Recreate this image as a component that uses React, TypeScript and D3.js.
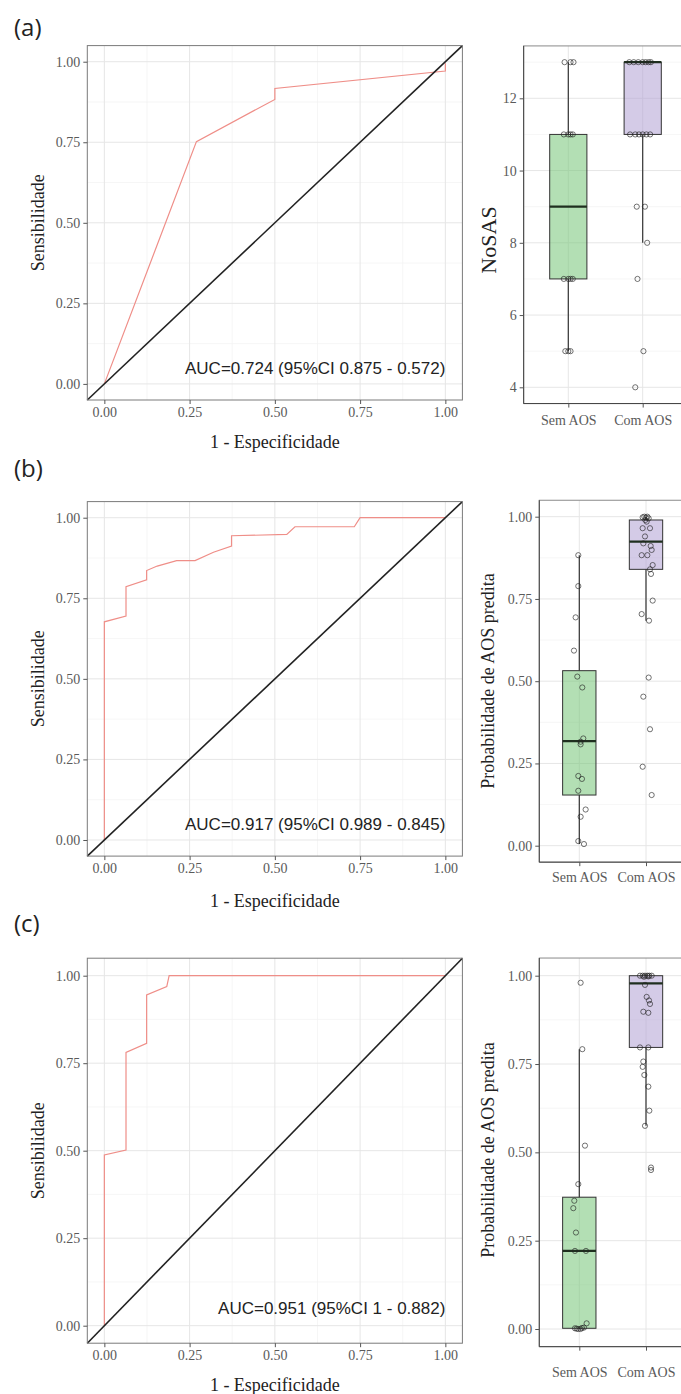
import React, { useEffect, useRef } from "react";
import * as d3 from "d3";

const W = 681;
const H = 1394;

const rocTicks = [0, 0.25, 0.5, 0.75, 1];
const rocMinor = [0.125, 0.375, 0.625, 0.875];
const groups = ["Sem AOS", "Com AOS"];
const nosasTicks = [4, 6, 8, 10, 12];
const nosasMinor = [5, 7, 9, 11, 13];
const probTicks = [0, 0.25, 0.5, 0.75, 1];
const probMinor = [0.125, 0.375, 0.625, 0.875];
const panelLabels = ["(a)", "(b)", "(c)"];
const boxTitles = ["NoSAS", "Probabilidade de AOS predita", "Probabilidade de AOS predita"];

// ROC curves: [1 - especificidade, sensibilidade]
const rocA = [[0, 0], [0.27, 0.752], [0.5, 0.883], [0.5, 0.917], [1, 0.971], [1, 0.995]];
const rocB = [
  [0, 0], [0, 0.677], [0.0635, 0.695], [0.0635, 0.786], [0.124, 0.807], [0.124, 0.836],
  [0.155, 0.85], [0.212, 0.867], [0.266, 0.867], [0.32, 0.893], [0.373, 0.912],
  [0.373, 0.944], [0.535, 0.948], [0.559, 0.972], [0.733, 0.972], [0.75, 1], [1, 1],
];
const rocC = [
  [0, 0], [0, 0.488], [0.0635, 0.502], [0.0635, 0.781], [0.124, 0.807], [0.124, 0.945],
  [0.183, 0.969], [0.19, 1], [1, 1],
];
const aucLabels = [
  "AUC=0.724 (95%CI 0.875 - 0.572)",
  "AUC=0.917 (95%CI 0.989 - 0.845)",
  "AUC=0.951 (95%CI 1 - 0.882)",
];

// box stats per group: [lower whisker, q1, median, q3, upper whisker]
const boxA = [[5, 7, 9, 11, 13], [8, 11, 13, 13, 13]];
const boxB = [[0.005, 0.154, 0.318, 0.532, 0.883], [0.684, 0.84, 0.924, 0.99, 1]];
const boxC = [[0, 0.002, 0.221, 0.373, 0.792], [0.575, 0.797, 0.978, 1, 1]];

// points: [value, horizontal jitter in category units]
const semA = [
  [13, -0.05], [13, 0.03], [13, 0.07], [11, -0.06], [11, 0], [11, 0.06], [11, 0.03],
  [7, -0.06], [7, 0], [7, 0.06], [7, 0.03], [5, -0.04], [5, 0.03], [5, 0.0],
];
const comA = [
  [13, -0.18], [13, -0.12], [13, -0.06], [13, 0], [13, 0.04], [13, 0.08], [13, 0.11],
  [11, -0.17], [11, -0.1], [11, -0.05], [11, 0], [11, 0.05], [11, 0.1],
  [9, -0.08], [9, 0.03], [8, 0.06], [7, -0.07], [5, 0.01], [4, -0.1],
];
const semB = [
  [0.883, -0.015], [0.789, -0.015], [0.694, -0.055], [0.593, -0.08], [0.514, -0.03],
  [0.481, 0.045], [0.326, 0.06], [0.316, 0.02], [0.308, 0.02], [0.212, -0.015],
  [0.203, 0.04], [0.167, -0.015], [0.11, 0.095], [0.088, 0.02], [0.014, -0.015], [0.005, 0.07],
];
const comB = [
  [0.998, -0.05], [1, -0.025], [0.997, 0], [1, 0.02], [0.995, 0.04], [0.99, -0.01], [0.985, 0.01],
  [0.965, -0.05], [0.965, 0.06], [0.94, -0.015], [0.919, -0.04], [0.911, 0.07], [0.899, 0.085],
  [0.883, -0.065], [0.883, 0.02], [0.853, 0.1], [0.84, 0.06], [0.826, 0.075], [0.745, 0.1],
  [0.704, -0.065], [0.684, 0.045], [0.511, 0.04], [0.453, -0.04], [0.354, 0.06], [0.24, -0.05],
  [0.154, 0.085],
];
const semC = [
  [0.98, 0.02], [0.792, 0.045], [0.519, 0.085], [0.41, -0.015], [0.363, -0.075], [0.342, -0.09],
  [0.273, -0.05], [0.221, -0.065], [0.221, 0.1], [0.016, 0.11], [0.004, 0.07], [0.002, -0.065],
  [0.001, -0.04], [0, -0.015], [0, 0.02], [0.003, 0.04],
];
const comC = [
  [1, -0.09], [1, -0.05], [1, -0.015], [1, 0.02], [1, 0.05], [1, 0.085], [0.997, -0.03], [0.998, 0.035],
  [0.974, -0.015], [0.94, 0.01], [0.93, 0.045], [0.92, 0.06], [0.898, -0.04], [0.895, 0.035],
  [0.797, -0.09], [0.797, 0.035], [0.757, -0.04], [0.742, -0.05], [0.719, -0.025], [0.686, 0.035],
  [0.618, 0.05], [0.575, -0.015], [0.457, 0.075], [0.45, 0.075],
];

const SERIF = "'Liberation Serif', 'Times New Roman', serif";
const SANS = "'Liberation Sans', Arial, sans-serif";
const fills = ["#74c476", "#b0a0d4"];

// pixel layout of each row
const rows = [
  { label: 36, rocY: [400, 45.6], rocTitle: 442, box: { dom: [4, 12], rng: [387.3, 98.3], lo: 3.55, hi: 13.45, titleY: 240, labelY: 420 } },
  { label: 477, rocY: [856.1, 501.6], rocTitle: 901, box: { dom: [0, 1], rng: [845.7, 516.7], lo: -0.05, hi: 1.05, titleY: 681, labelY: 877 } },
  { label: 932, rocY: [1343.2, 958.2], rocTitle: 1385, box: { dom: [0, 1], rng: [1329, 975.7], lo: -0.05, hi: 1.05, titleY: 1150, labelY: 1372 } },
];

function styleAxis(g: any) {
  g.select(".domain").remove();
  g.selectAll(".tick line").attr("stroke", "#555");
  g.selectAll(".tick text").attr("fill", "#5a5a5a").style("font-family", SERIF).style("font-size", "14px");
}

function drawRoc(svg: any, curve: number[][], auc: string, row: any) {
  const x = d3.scaleLinear().domain([-0.05, 1.05]).range([87.3, 462.4]);
  const y = d3.scaleLinear().domain([-0.05, 1.05]).range(row.rocY);
  const [x0, x1] = x.range();
  const [y0, y1] = y.range();
  const g = svg.append("g");

  g.selectAll(".vmin").data(rocMinor).enter().append("line")
    .attr("x1", (d: number) => x(d)).attr("x2", (d: number) => x(d)).attr("y1", y0).attr("y2", y1)
    .attr("stroke", "#f2f2f2").attr("stroke-width", 0.7);
  g.selectAll(".hmin").data(rocMinor).enter().append("line")
    .attr("y1", (d: number) => y(d)).attr("y2", (d: number) => y(d)).attr("x1", x0).attr("x2", x1)
    .attr("stroke", "#f2f2f2").attr("stroke-width", 0.7);
  g.selectAll(".vmaj").data(rocTicks).enter().append("line")
    .attr("x1", (d: number) => x(d)).attr("x2", (d: number) => x(d)).attr("y1", y0).attr("y2", y1)
    .attr("stroke", "#e6e6e6").attr("stroke-width", 1);
  g.selectAll(".hmaj").data(rocTicks).enter().append("line")
    .attr("y1", (d: number) => y(d)).attr("y2", (d: number) => y(d)).attr("x1", x0).attr("x2", x1)
    .attr("stroke", "#e6e6e6").attr("stroke-width", 1);

  const line = d3.line<number[]>().x((d) => x(d[0])).y((d) => y(d[1]));
  g.append("path").attr("d", line(curve)).attr("fill", "none")
    .attr("stroke", "#ef8e88").attr("stroke-width", 1.2);
  g.append("path").attr("d", line([[-0.05, -0.05], [1.05, 1.05]])).attr("fill", "none")
    .attr("stroke", "#222").attr("stroke-width", 1.6);

  g.append("text").attr("x", x(1)).attr("y", y(0.05)).attr("dy", "0.35em")
    .attr("text-anchor", "end").style("font-family", SANS).style("font-size", "17px")
    .attr("fill", "#222").text(auc);

  g.append("rect").attr("x", x0).attr("y", y1).attr("width", x1 - x0).attr("height", y0 - y1)
    .attr("fill", "none").attr("stroke", "#7a7a7a").attr("stroke-width", 1);

  g.append("g").attr("transform", `translate(${x0},0)`)
    .call(d3.axisLeft(y).tickValues(rocTicks).tickFormat(d3.format(".2f")).tickSize(4).tickPadding(3))
    .call(styleAxis);
  g.append("g").attr("transform", `translate(0,${y0})`)
    .call(d3.axisBottom(x).tickValues(rocTicks).tickFormat(d3.format(".2f")).tickSize(4).tickPadding(3))
    .call(styleAxis);

  g.append("text").attr("transform", `translate(38,${(y0 + y1) / 2}) rotate(-90)`)
    .attr("text-anchor", "middle").attr("dy", "0.35em").style("font-family", SERIF)
    .style("font-size", "18px").attr("fill", "#222").text("Sensibilidade");
  g.append("text").attr("x", (x0 + x1) / 2).attr("y", row.rocTitle).attr("dy", "0.35em")
    .attr("text-anchor", "middle").style("font-family", SERIF).style("font-size", "18px")
    .attr("fill", "#222").text("1 - Especificidade");
}

function drawBox(svg: any, stats: number[][], pts: number[][][], title: string, row: any, i: number) {
  const b = row.box;
  const xr = i === 0 ? [568.3, 642.7] : [579.3, 646];
  const x = d3.scaleLinear().domain([1, 2]).range(xr);
  const y = d3.scaleLinear().domain(b.dom).range(b.rng);
  const x0 = x(0.4), x1 = x(2.6);
  const y0 = y(b.lo), y1 = y(b.hi);
  const ticks = i === 0 ? nosasTicks : probTicks;
  const minor = i === 0 ? nosasMinor : probMinor;
  const g = svg.append("g");

  g.selectAll(".hmin").data(minor).enter().append("line")
    .attr("y1", (d: number) => y(d)).attr("y2", (d: number) => y(d)).attr("x1", x0).attr("x2", x1)
    .attr("stroke", "#f2f2f2").attr("stroke-width", 0.7);
  g.selectAll(".hmaj").data(ticks).enter().append("line")
    .attr("y1", (d: number) => y(d)).attr("y2", (d: number) => y(d)).attr("x1", x0).attr("x2", x1)
    .attr("stroke", "#e6e6e6").attr("stroke-width", 1);
  g.selectAll(".vmaj").data([1, 2]).enter().append("line")
    .attr("x1", (d: number) => x(d)).attr("x2", (d: number) => x(d)).attr("y1", y0).attr("y2", y1)
    .attr("stroke", "#e6e6e6").attr("stroke-width", 1);

  const hw = 0.25;
  stats.forEach((s, k) => {
    const c = x(k + 1);
    g.append("line").attr("x1", c).attr("x2", c).attr("y1", y(s[3])).attr("y2", y(s[4]))
      .attr("stroke", "#333").attr("stroke-width", 1.2);
    g.append("line").attr("x1", c).attr("x2", c).attr("y1", y(s[0])).attr("y2", y(s[1]))
      .attr("stroke", "#333").attr("stroke-width", 1.2);
    g.append("rect").attr("x", x(k + 1 - hw)).attr("width", x(k + 1 + hw) - x(k + 1 - hw))
      .attr("y", y(s[3])).attr("height", y(s[1]) - y(s[3]))
      .attr("fill", fills[k]).attr("fill-opacity", 0.55).attr("stroke", "#333").attr("stroke-width", 1);
    g.append("line").attr("x1", x(k + 1 - hw)).attr("x2", x(k + 1 + hw)).attr("y1", y(s[2])).attr("y2", y(s[2]))
      .attr("stroke", "#1f2f1f").attr("stroke-width", 2.2);
  });

  pts.forEach((set, k) => {
    g.selectAll(`.pt${k}`).data(set).enter().append("circle")
      .attr("cx", (d: number[]) => x(k + 1 + d[1])).attr("cy", (d: number[]) => y(d[0]))
      .attr("r", 2.6).attr("fill", "none").attr("stroke", "#222").attr("stroke-opacity", 0.7)
      .attr("stroke-width", 0.9);
  });

  g.append("rect").attr("x", x0).attr("y", y1).attr("width", x1 - x0).attr("height", y0 - y1)
    .attr("fill", "none").attr("stroke", "#8a8a8a").attr("stroke-width", 1);
  g.append("line").attr("x1", x0).attr("x2", x1).attr("y1", y0).attr("y2", y0)
    .attr("stroke", "#444").attr("stroke-width", 1);
  g.append("line").attr("x1", x0).attr("x2", x0).attr("y1", y0).attr("y2", y1)
    .attr("stroke", "#444").attr("stroke-width", 1);

  const fmt = i === 0 ? d3.format("d") : d3.format(".2f");
  g.append("g").attr("transform", `translate(${x0},0)`)
    .call(d3.axisLeft(y).tickValues(ticks).tickFormat(fmt as any).tickSize(4).tickPadding(3))
    .call(styleAxis);
  const xb = g.append("g").attr("transform", `translate(0,${y0})`)
    .call(d3.axisBottom(x).tickValues([1, 2]).tickFormat((d: any) => groups[d - 1]).tickSize(4).tickPadding(3))
    .call(styleAxis);
  xb.selectAll(".tick text").attr("y", b.labelY - y0).attr("dy", "0.35em");

  g.append("text").attr("transform", `translate(488,${b.titleY}) rotate(-90)`)
    .attr("text-anchor", "middle").attr("dy", "0.35em").style("font-family", SERIF)
    .style("font-size", i === 0 ? "22px" : "18px").attr("fill", "#222").text(title);
}

const App = () => {
  const ref = useRef<SVGSVGElement>(null);

  useEffect(() => {
    const svg = d3.select(ref.current);
    svg.selectAll("*").remove();
    svg.append("rect").attr("width", W).attr("height", H).attr("fill", "white");

    const curves = [rocA, rocB, rocC];
    const boxes = [boxA, boxB, boxC];
    const points = [[semA, comA], [semB, comB], [semC, comC]];

    rows.forEach((row, i) => {
      drawRoc(svg, curves[i], aucLabels[i], row);
      drawBox(svg, boxes[i], points[i], boxTitles[i], row, i);
      svg.append("text").attr("x", 14).attr("y", row.label)
        .style("font-family", "'Open Sans', sans-serif").style("font-size", "24px")
        .attr("fill", "#222").text(panelLabels[i]);
    });
  }, []);

  return (
    <div style={{ position: "absolute", left: 0, top: 0 }}>
      <svg ref={ref} width={W} height={H} style={{ display: "block" }}></svg>
    </div>
  );
};

export default App;
